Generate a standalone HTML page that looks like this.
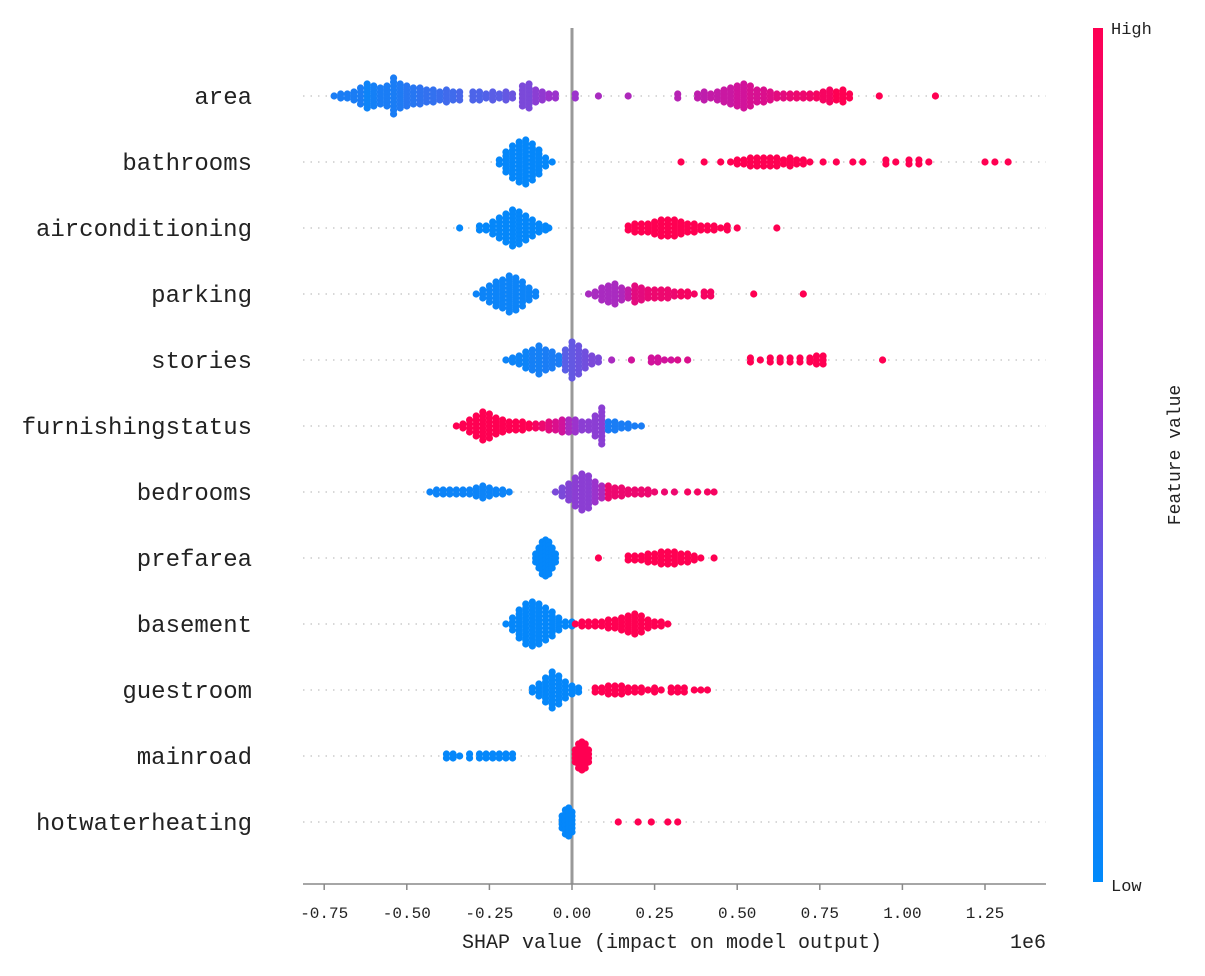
<!DOCTYPE html>
<html><head><meta charset="utf-8"><style>
html,body{margin:0;padding:0;background:#fff;}
svg{display:block;}
text{font-family:"Liberation Mono","WenQuanYi Zen Hei",monospace;fill:#222;}
</style></head><body>
<svg id="chart" width="1205" height="976" xmlns="http://www.w3.org/2000/svg">
<defs><linearGradient id="cb" x1="0" y1="1" x2="0" y2="0">
<stop offset="0" stop-color="#008afb"/><stop offset="0.35" stop-color="#5a5ee6"/><stop offset="0.55" stop-color="#9b33cc"/><stop offset="0.75" stop-color="#d1139b"/><stop offset="1" stop-color="#ff0052"/></linearGradient></defs>
<g id="grid"></g>
<line x1="572" y1="28" x2="572" y2="884" stroke="#999" stroke-width="3"/>
<g id="dots"></g>
<g id="labels"></g>
<line x1="303" y1="884" x2="1046" y2="884" stroke="#888" stroke-width="1.5"/>
<g id="ticks"></g>
<text x="672" y="948" text-anchor="middle" font-size="20">SHAP value (impact on model output)</text>
<text x="1028" y="948" text-anchor="middle" font-size="20">1e6</text>
<rect x="1093" y="28" width="10" height="854" fill="url(#cb)"/>
<text x="1111" y="34" font-size="17">High</text>
<text x="1111" y="891" font-size="17">Low</text>
<text x="0" y="0" font-size="18" text-anchor="middle" transform="translate(1180,455) rotate(-90)">Feature value</text>
</svg>
<script>
const features = ["area","bathrooms","airconditioning","parking","stories","furnishingstatus","bedrooms","prefarea","basement","guestroom","mainroad","hotwaterheating"];
const featureLabels = ["area","bathrooms","airconditioning","parking","stories","furnishingstatus","bedrooms","prefarea","basement","guestroom","mainroad","hotwaterheating"];
const tickValues = [-0.75,-0.5,-0.25,0,0.25,0.5,0.75,1,1.25];
const tickLabels = ["-0.75","-0.50","-0.25","0.00","0.25","0.50","0.75","1.00","1.25"];
// groups: [shap value (1e6), feature value 0-1, count]
const areaVals = [[-0.72,0.1,1],[-0.70,0.1,2],[-0.68,0.1,2],[-0.66,0.1,3],[-0.64,0.1,5],[-0.62,0.05,7],[-0.60,0.08,6],[-0.58,0.1,5],[-0.56,0.1,6],[-0.54,0.1,10],[-0.52,0.12,7],[-0.50,0.15,6],[-0.48,0.15,5],[-0.46,0.18,5],[-0.44,0.2,4],[-0.42,0.2,4],[-0.40,0.22,3],[-0.38,0.25,4],[-0.36,0.25,3],[-0.34,0.28,3],[-0.30,0.3,3],[-0.28,0.3,3],[-0.26,0.32,2],[-0.24,0.35,3],[-0.22,0.35,2],[-0.20,0.38,3],[-0.18,0.4,2],[-0.15,0.45,6],[-0.13,0.45,7],[-0.11,0.5,4],[-0.09,0.52,3],[-0.07,0.55,2],[-0.05,0.55,2],[0.01,0.55,2],[0.08,0.6,1],[0.17,0.62,1],[0.32,0.65,2],[0.38,0.68,2],[0.40,0.68,3],[0.42,0.7,2],[0.44,0.7,3],[0.46,0.72,4],[0.48,0.72,5],[0.50,0.75,6],[0.52,0.75,7],[0.54,0.78,6],[0.56,0.78,4],[0.58,0.8,4],[0.60,0.82,3],[0.62,0.85,2],[0.64,0.85,2],[0.66,0.88,2],[0.68,0.9,2],[0.70,0.9,2],[0.72,0.92,2],[0.74,0.95,2],[0.76,0.95,3],[0.78,0.95,4],[0.80,1,3],[0.82,1,4],[0.84,1,2],[0.93,1,1],[1.10,1,1]];
const bathroomsVals = [[-0.22,0.02,2],[-0.20,0.02,6],[-0.18,0.02,9],[-0.16,0.02,11],[-0.14,0.02,12],[-0.12,0.02,10],[-0.10,0.02,7],[-0.08,0.02,3],[-0.06,0.02,1],[0.33,1,1],[0.40,1,1],[0.45,1,1],[0.48,1,1],[0.50,1,2],[0.52,1,2],[0.54,1,3],[0.56,1,3],[0.58,1,3],[0.60,1,3],[0.62,1,3],[0.64,1,2],[0.66,1,3],[0.68,1,2],[0.70,1,2],[0.72,1,1],[0.76,1,1],[0.80,1,1],[0.85,1,1],[0.88,1,1],[0.95,1,2],[0.98,1,1],[1.02,1,2],[1.05,1,2],[1.08,1,1],[1.25,1,1],[1.28,1,1],[1.32,1,1]];
const airconditioningVals = [[-0.34,0.02,1],[-0.28,0.02,2],[-0.26,0.02,2],[-0.24,0.02,4],[-0.22,0.02,6],[-0.20,0.02,8],[-0.18,0.02,10],[-0.16,0.02,9],[-0.14,0.02,7],[-0.12,0.02,5],[-0.10,0.02,3],[-0.08,0.02,2],[-0.07,0.02,1],[0.17,1,2],[0.19,1,3],[0.21,1,3],[0.23,1,3],[0.25,1,4],[0.27,1,5],[0.29,1,5],[0.31,1,5],[0.33,1,4],[0.35,1,3],[0.37,1,3],[0.39,1,2],[0.41,1,2],[0.43,1,2],[0.45,1,1],[0.47,1,2],[0.50,1,1],[0.62,1,1]];
const parkingVals = [[-0.29,0.05,1],[-0.27,0.05,3],[-0.25,0.05,5],[-0.23,0.05,7],[-0.21,0.05,8],[-0.19,0.05,10],[-0.17,0.05,9],[-0.15,0.05,7],[-0.13,0.05,4],[-0.11,0.05,2],[0.05,0.6,1],[0.07,0.6,2],[0.09,0.6,4],[0.11,0.6,5],[0.13,0.6,6],[0.15,0.62,4],[0.17,0.7,3],[0.19,0.85,5],[0.21,0.85,4],[0.23,0.88,3],[0.25,0.9,3],[0.27,0.9,3],[0.29,0.9,3],[0.31,0.9,2],[0.33,0.95,2],[0.35,0.95,2],[0.37,0.95,1],[0.40,0.95,2],[0.42,0.95,2],[0.55,1,1],[0.70,1,1]];
const storiesVals = [[-0.20,0.05,1],[-0.18,0.05,2],[-0.16,0.05,3],[-0.14,0.05,5],[-0.12,0.08,6],[-0.10,0.08,8],[-0.08,0.1,6],[-0.06,0.1,5],[-0.04,0.1,3],[-0.02,0.35,6],[0.00,0.38,10],[0.02,0.4,8],[0.04,0.42,5],[0.06,0.45,3],[0.08,0.45,2],[0.12,0.6,1],[0.18,0.75,1],[0.24,0.75,2],[0.26,0.75,2],[0.28,0.75,1],[0.30,0.75,1],[0.32,0.8,1],[0.35,0.8,1],[0.54,1,2],[0.57,1,1],[0.60,1,2],[0.63,1,2],[0.66,1,2],[0.69,1,2],[0.72,1,2],[0.74,1,3],[0.76,1,3],[0.94,1,1]];
const furnishingstatusVals = [[-0.35,1,1],[-0.33,1,2],[-0.31,1,4],[-0.29,1,6],[-0.27,1,8],[-0.25,1,7],[-0.23,1,5],[-0.21,1,4],[-0.19,1,3],[-0.17,1,3],[-0.15,1,3],[-0.13,1,2],[-0.11,0.95,2],[-0.09,0.9,2],[-0.07,0.85,3],[-0.05,0.8,3],[-0.03,0.75,4],[-0.01,0.6,4],[0.01,0.55,4],[0.03,0.5,3],[0.05,0.5,3],[0.07,0.5,6],[0.09,0.5,10],[0.11,0.1,3],[0.13,0.1,3],[0.15,0.1,2],[0.17,0.1,2],[0.19,0.1,1],[0.21,0.1,1]];
const bedroomsVals = [[-0.43,0.05,1],[-0.41,0.05,2],[-0.39,0.05,2],[-0.37,0.05,2],[-0.35,0.05,2],[-0.33,0.05,2],[-0.31,0.05,2],[-0.29,0.05,3],[-0.27,0.05,4],[-0.25,0.05,3],[-0.23,0.05,2],[-0.21,0.05,2],[-0.19,0.05,1],[-0.05,0.45,1],[-0.03,0.45,3],[-0.01,0.48,5],[0.01,0.5,8],[0.03,0.5,10],[0.05,0.5,9],[0.07,0.55,6],[0.09,0.6,4],[0.11,0.9,4],[0.13,0.9,3],[0.15,0.9,3],[0.17,0.9,2],[0.19,0.9,2],[0.21,0.9,2],[0.23,0.9,2],[0.25,0.9,1],[0.28,0.9,1],[0.31,0.9,1],[0.35,0.95,1],[0.38,0.95,1],[0.41,0.95,1],[0.43,0.95,1]];
const prefareaVals = [[-0.11,0.02,3],[-0.10,0.02,6],[-0.09,0.02,9],[-0.08,0.02,10],[-0.07,0.02,9],[-0.06,0.02,6],[-0.05,0.02,3],[0.08,1,1],[0.17,1,2],[0.19,1,2],[0.21,1,2],[0.23,1,3],[0.25,1,3],[0.27,1,4],[0.29,1,4],[0.31,1,4],[0.33,1,3],[0.35,1,3],[0.37,1,2],[0.39,1,1],[0.43,1,1]];
const basementVals = [[-0.20,0.02,1],[-0.18,0.02,4],[-0.16,0.02,8],[-0.14,0.02,11],[-0.12,0.02,12],[-0.10,0.02,11],[-0.08,0.02,9],[-0.06,0.02,7],[-0.04,0.02,4],[-0.02,0.02,2],[0.00,0.02,2],[0.01,1,1],[0.03,1,2],[0.05,1,2],[0.07,1,2],[0.09,1,2],[0.11,1,3],[0.13,1,3],[0.15,1,4],[0.17,1,5],[0.19,1,6],[0.21,1,5],[0.23,1,3],[0.25,1,2],[0.27,1,2],[0.29,1,1]];
const guestroomVals = [[-0.12,0.02,2],[-0.10,0.02,4],[-0.08,0.02,7],[-0.06,0.02,10],[-0.04,0.02,8],[-0.02,0.02,5],[0.00,0.02,3],[0.02,0.02,2],[0.07,1,2],[0.09,1,2],[0.11,1,3],[0.13,1,3],[0.15,1,3],[0.17,1,2],[0.19,1,2],[0.21,1,2],[0.23,1,1],[0.25,1,2],[0.27,1,1],[0.30,1,2],[0.32,1,2],[0.34,1,2],[0.37,1,1],[0.39,1,1],[0.41,1,1]];
const mainroadVals = [[-0.38,0.02,2],[-0.36,0.02,2],[-0.34,0.02,1],[-0.31,0.02,2],[-0.28,0.02,2],[-0.26,0.02,2],[-0.24,0.02,2],[-0.22,0.02,2],[-0.20,0.02,2],[-0.18,0.02,2],[0.01,1,4],[0.02,1,7],[0.03,1,8],[0.04,1,7],[0.05,1,4]];
const hotwaterheatingVals = [[-0.03,0.02,4],[-0.02,0.02,7],[-0.01,0.02,8],[0.00,0.02,6],[0.14,1,1],[0.20,1,1],[0.24,1,1],[0.29,1,1],[0.32,1,1]];
const allVals = [areaVals,bathroomsVals,airconditioningVals,parkingVals,storiesVals,furnishingstatusVals,bedroomsVals,prefareaVals,basementVals,guestroomVals,mainroadVals,hotwaterheatingVals];

const NS = "http://www.w3.org/2000/svg";
function xScale(v){ return 572 + v*330.4; }
function yRow(i){ return 96 + i*66.0; }
const stops = [[0,[0,138,251]],[0.35,[90,94,230]],[0.55,[155,51,204]],[0.75,[209,19,155]],[1,[255,0,82]]];
function color(t){
  for(let i=1;i<stops.length;i++){
    if(t<=stops[i][0]){
      const a=stops[i-1],b=stops[i],f=(t-a[0])/(b[0]-a[0]);
      const c=a[1].map((x,k)=>Math.round(x+(b[1][k]-x)*f));
      return "rgb("+c.join(",")+")";
    }
  }
  return "rgb(255,0,82)";
}
const grid=document.getElementById("grid"), dots=document.getElementById("dots"), labels=document.getElementById("labels"), ticks=document.getElementById("ticks");
features.forEach((f,i)=>{
  const y=yRow(i);
  const ln=document.createElementNS(NS,"line");
  ln.setAttribute("x1",303); ln.setAttribute("x2",1046); ln.setAttribute("y1",y); ln.setAttribute("y2",y);
  ln.setAttribute("stroke","#ccc"); ln.setAttribute("stroke-width","1.5"); ln.setAttribute("stroke-dasharray","1.5 6");
  
  
  grid.appendChild(ln);
  const t=document.createElementNS(NS,"text");
  t.setAttribute("x",252); t.setAttribute("y",y+8); t.setAttribute("text-anchor","end"); t.setAttribute("font-size","24");
  t.textContent=featureLabels[i];
  
  
  labels.appendChild(t);
  const g=document.createElementNS(NS,"g");
  
  
  allVals[i].forEach(([v,fv,n])=>{
    for(let k=0;k<n;k++){
      const c=document.createElementNS(NS,"circle");
      c.setAttribute("cx",xScale(v)); c.setAttribute("cy",y+(k-(n-1)/2)*4.0);
      c.setAttribute("r",3.6); c.setAttribute("fill",color(fv));
      
      
      g.appendChild(c);
    }
  });
  dots.appendChild(g);
});
tickValues.forEach((v,i)=>{
  const x=xScale(v);
  const l=document.createElementNS(NS,"line");
  l.setAttribute("x1",x); l.setAttribute("x2",x); l.setAttribute("y1",884); l.setAttribute("y2",890);
  l.setAttribute("stroke","#888"); l.setAttribute("stroke-width","1.5");
  
  
  ticks.appendChild(l);
  const t=document.createElementNS(NS,"text");
  t.setAttribute("x",x); t.setAttribute("y",918); t.setAttribute("text-anchor","middle"); t.setAttribute("font-size","16");
  t.textContent=tickLabels[i];
  
  
  ticks.appendChild(t);
});
</script>
</body></html>
